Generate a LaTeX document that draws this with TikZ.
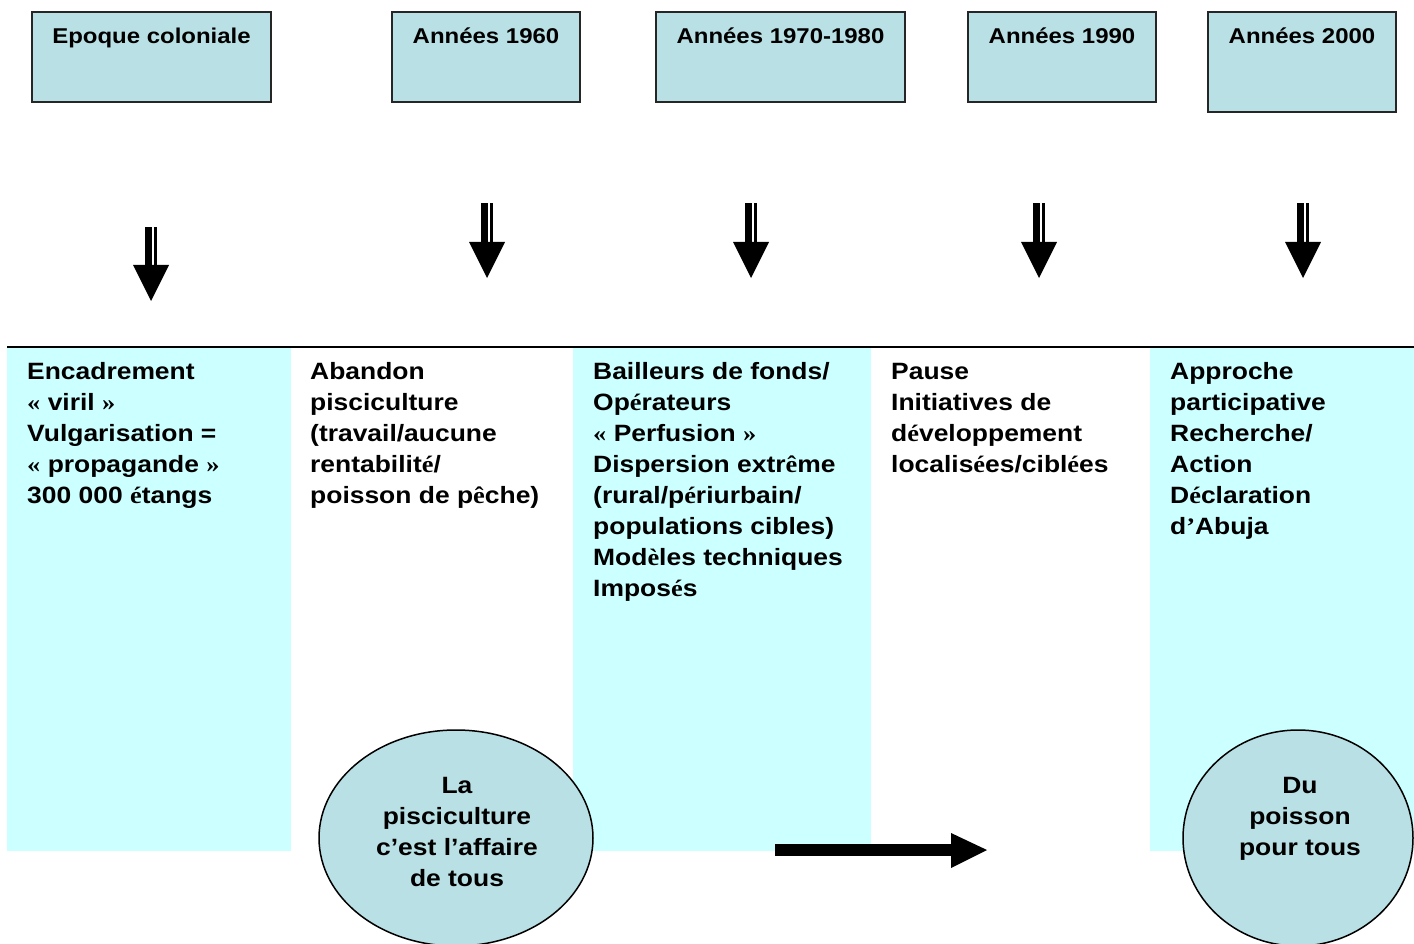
\documentclass[tikz,border=0pt]{standalone}
\usepackage{fontspec}
\usetikzlibrary{shapes.geometric}
\setmainfont{Liberation Sans}[FakeStretch=1.12]
\newfontfamily\tms{Liberation Serif}[FakeStretch=1.12]
\newcommand\tm[1]{{\tms #1}}
\definecolor{hdr}{RGB}{185,224,228}
\definecolor{colcyan}{RGB}{204,255,255}
\newcommand\blockdown[3]{%
  \fill (#1-6,#2) rectangle (#1+6,#3);
  \fill[white] (#1+1,#2) rectangle (#1+3,#3);
  \fill (#1-18,#3) -- (#1+18,#3) -- (#1,#3+36) -- cycle;}
\begin{document}
\begin{tikzpicture}[x=1pt,y=-1pt,
  hdrbox/.style={draw=black!85, line width=2pt, fill=hdr, inner sep=0pt, anchor=north west},
  hdrtxt/.style={font=\fontsize{21.4}{26}\selectfont\bfseries, inner sep=0pt, anchor=base},
  bodytxt/.style={font=\fontsize{23.6}{31}\selectfont\bfseries, align=left, inner sep=0pt, anchor=north west},
  elltxt/.style={font=\fontsize{23.6}{31}\selectfont\bfseries, align=center, inner sep=0pt, anchor=north},
  ell/.style={ellipse, draw=black, line width=1.5pt, fill=hdr, inner sep=0pt}]
\useasboundingbox (0,0) rectangle (1414,944);
% columns
\fill[colcyan] (7,348) rectangle (291,851);
\fill[colcyan] (573,348) rectangle (871,851);
\fill[colcyan] (1150,348) rectangle (1414,851);
\coordinate (lineL) at (7,347);
\coordinate (lineR) at (1414,347);
\draw[line width=2pt] (lineL) -- (lineR);
% header boxes
\node[hdrbox, minimum width=239pt, minimum height=90pt] (h1) at (31,11) {};
\node[hdrbox, minimum width=188pt, minimum height=90pt] (h2) at (391,11) {};
\node[hdrbox, minimum width=249pt, minimum height=90pt] (h3) at (655,11) {};
\node[hdrbox, minimum width=188pt, minimum height=90pt] (h4) at (967,11) {};
\node[hdrbox, minimum width=188pt, minimum height=100pt] (h5) at (1207,11) {};
\node[hdrtxt] (h1t) at ([yshift=-33pt]h1.north) {Epoque coloniale};
\node[hdrtxt] (h2t) at ([yshift=-33pt]h2.north) {Années 1960};
\node[hdrtxt] (h3t) at ([yshift=-33pt]h3.north) {Années 1970-1980};
\node[hdrtxt] (h4t) at ([yshift=-33pt]h4.north) {Années 1990};
\node[hdrtxt] (h5t) at ([yshift=-33pt]h5.north) {Années 2000};
% block arrows
\blockdown{151}{227}{265}
\blockdown{487}{203}{242}
\blockdown{751}{203}{242}
\blockdown{1039}{203}{242}
\blockdown{1303}{203}{242}
% column texts
\node[bodytxt] (c1) at (27,362) {\rule{0pt}{17pt}Encadrement\\ \tm{«}~viril~\tm{»}\\ Vulgarisation =\\ \tm{«}~propagande~\tm{»}\\ 300 000 \tm{é}tangs};
\node[bodytxt] (c2) at (310,362) {\rule{0pt}{17pt}Abandon\\ pisciculture\\ (travail/aucune\\ rentabilit\tm{é}/\\ poisson de p\tm{ê}che)};
\node[bodytxt] (c3) at (593,362) {\rule{0pt}{17pt}Bailleurs de fonds/\\ Op\tm{é}rateurs\\ \tm{«}~Perfusion~\tm{»}\\ Dispersion extr\tm{ê}me\\ (rural/p\tm{é}riurbain/\\ populations cibles)\\ Mod\tm{è}les techniques\\ Impos\tm{é}s};
\node[bodytxt] (c4) at (891,362) {\rule{0pt}{17pt}Pause\\ Initiatives de\\ d\tm{é}veloppement\\ localis\tm{é}es/cibl\tm{é}es};
\node[bodytxt] (c5) at (1170,362) {\rule{0pt}{17pt}Approche\\ participative\\ Recherche/\\ Action\\ D\tm{é}claration\\ d\tm{’}Abuja};
% ellipses
\node[ell, minimum width=274pt, minimum height=216pt] (e1) at (456,838) {};
\node[ell, minimum width=230pt, minimum height=216pt] (e2) at (1298,838) {};
\node[elltxt] (e1t) at (457,776) {\rule{0pt}{17pt}La\\ pisciculture\\ c’est l’affaire\\ de tous};
\node[elltxt] (e2t) at (1300,776) {\rule{0pt}{17pt}Du\\ poisson\\ pour tous};
% horizontal arrow
\coordinate (ha1) at (775,850);
\coordinate (ha2) at (987,850);
\fill (775,844) rectangle (952,856);
\fill (951,833) -- (ha2) -- (951,868) -- cycle;
\end{tikzpicture}
\end{document}
